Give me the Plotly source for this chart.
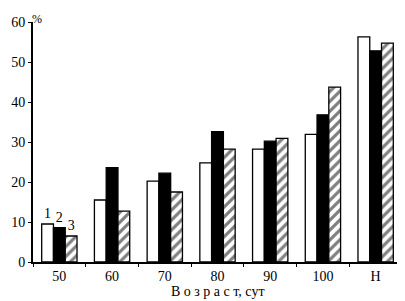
import plotly.graph_objects as go

categories = ["50", "60", "70", "80", "90", "100", "Н"]
series1 = [9.5, 15.5, 20.2, 24.8, 28.2, 31.9, 56.3]
series2 = [8.6, 23.6, 22.2, 32.6, 30.2, 36.8, 52.8]
series3 = [6.5, 12.7, 17.5, 28.2, 30.9, 43.7, 54.7]
series_labels = ["1", "2", "3"]
y_ticks = [0, 10, 20, 30, 40, 50, 60]
x_title = "В о з р а с т, сут"

FONT = "Liberation Serif"

def first_label(lab):
    return [lab] + [""] * (len(categories) - 1)

common = dict(textposition="outside", cliponaxis=False,
              textfont=dict(family=FONT, size=14, color="black"))

fig = go.Figure()
fig.add_trace(go.Bar(x=categories, y=series1, name=series_labels[0],
                     text=first_label(series_labels[0]), **common,
                     marker=dict(color="white", line=dict(color="black", width=1.3))))
fig.add_trace(go.Bar(x=categories, y=series2, name=series_labels[1],
                     text=first_label(series_labels[1]), **common,
                     marker=dict(color="black", line=dict(color="black", width=1.3))))
fig.add_trace(go.Bar(x=categories, y=series3, name=series_labels[2],
                     text=first_label(series_labels[2]), **common,
                     marker=dict(color="white", line=dict(color="black", width=1.3),
                                 pattern=dict(shape="/", fgcolor="black", bgcolor="white",
                                              size=7, solidity=0.45))))

fig.add_annotation(x=0, y=1, xref="paper", yref="paper", text="%", showarrow=False,
                   xanchor="left", yanchor="top", xshift=-3, yshift=12,
                   font=dict(family=FONT, size=12, color="black"))
fig.add_annotation(x=0.5, y=0, xref="paper", yref="paper", text=x_title, showarrow=False,
                   xanchor="center", yanchor="top", yshift=-20,
                   font=dict(family=FONT, size=14, color="black"))

fig.update_layout(
    width=397, height=293,
    margin=dict(l=17, r=3, t=14, b=39),
    paper_bgcolor="white", plot_bgcolor="white",
    barmode="group", bargap=0.33, bargroupgap=0,
    showlegend=False,
    uniformtext=dict(minsize=14, mode="show"),
    font=dict(family=FONT, size=14, color="black"),
)
fig.update_xaxes(
    type="category",
    showline=True, linecolor="black", linewidth=2,
    ticks="outside", tickson="boundaries", ticklen=3, tickcolor="black",
    showgrid=False, tickangle=0,
)
fig.update_yaxes(
    range=[0, 60], tickvals=y_ticks,
    showline=True, linecolor="black", linewidth=2,
    ticks="outside", ticklen=3, tickcolor="black",
    showgrid=False, zeroline=False,
)

fig.write_html("out.html")
